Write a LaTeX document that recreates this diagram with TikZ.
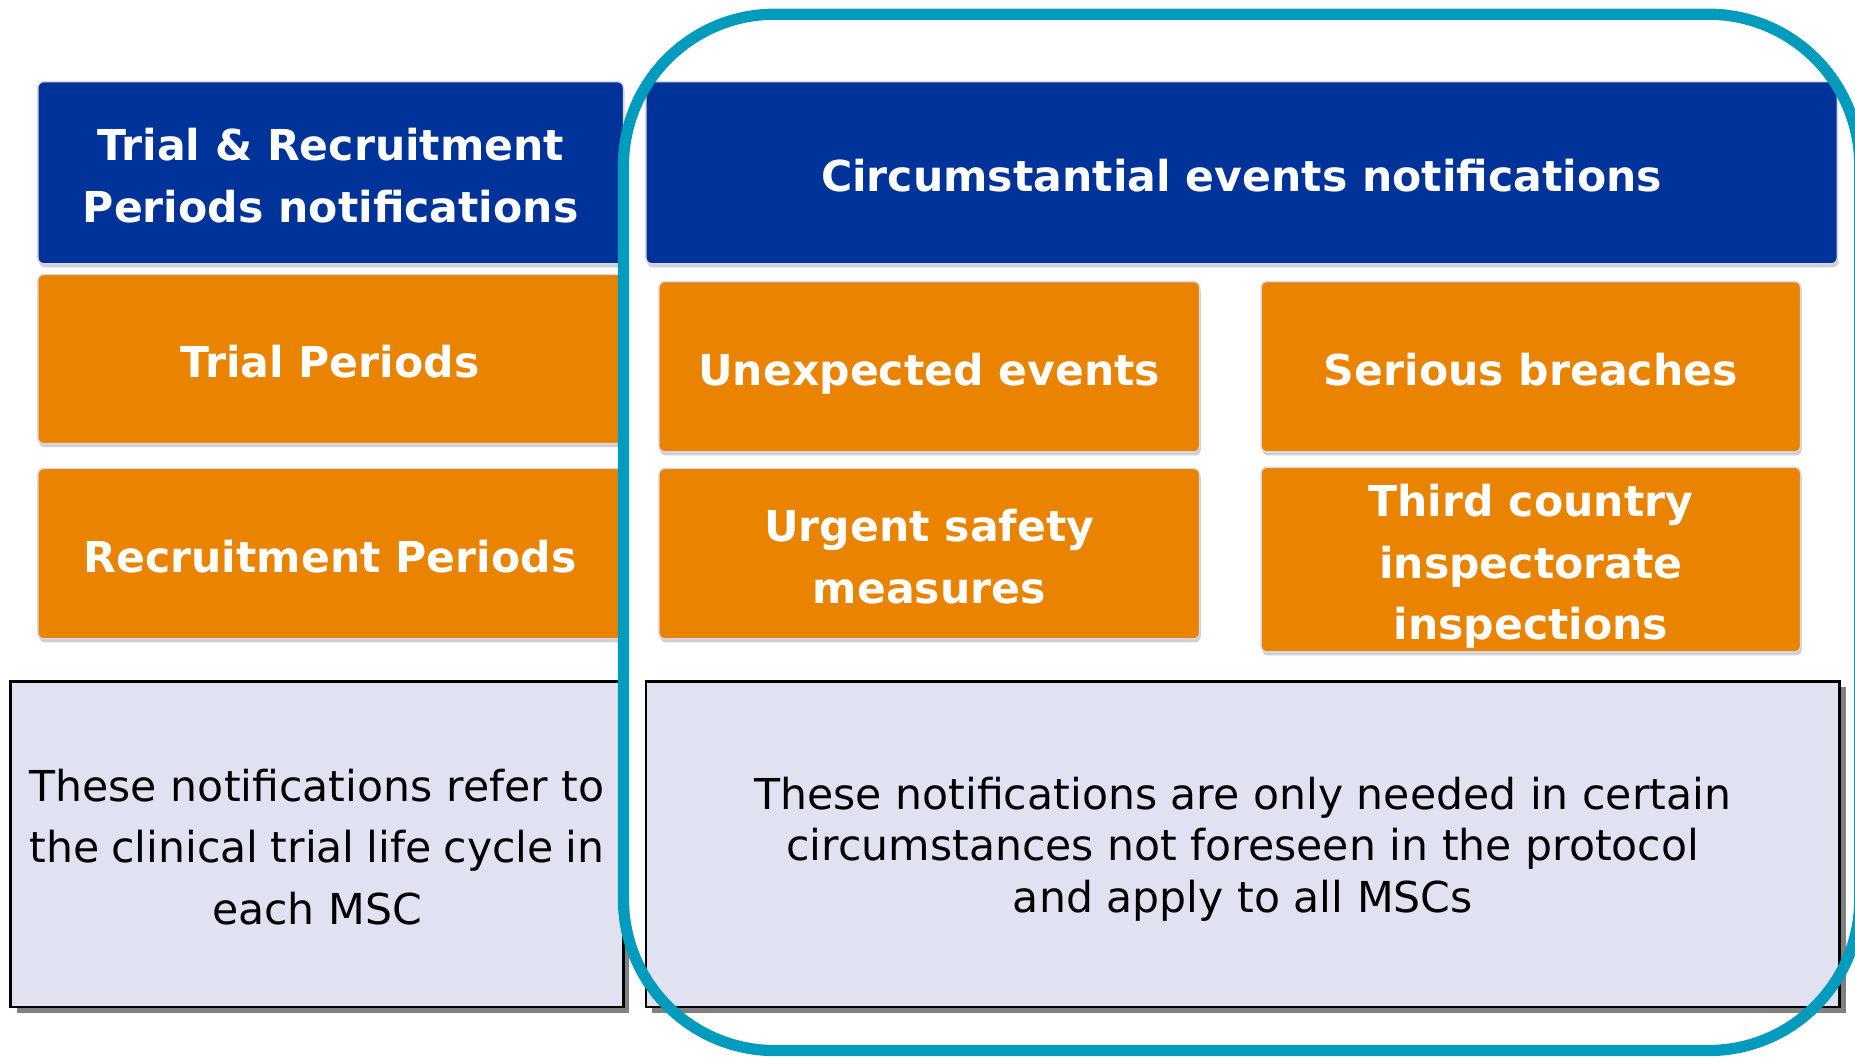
\documentclass[tikz,border=0pt]{standalone}
\usepackage{fontspec}
\setmainfont{DejaVu Sans}
\usetikzlibrary{shadows}

\definecolor{hdrblue}{RGB}{0,51,153}
\definecolor{evorange}{RGB}{233,131,0}
\definecolor{notefill}{RGB}{224,226,242}
\definecolor{frameteal}{RGB}{0,155,189}
\definecolor{edgegray}{RGB}{214,216,230}

% centred block of lines, lowered a little inside its own box
\newcommand{\blocktext}[1]{\raisebox{-5.5pt}[\height][\depth]{\begin{tabular}{@{}c@{}}#1\end{tabular}}}

\tikzset{
  tile/.style={rounded corners=5pt, draw=edgegray, line width=1.2pt, inner sep=0pt,
    text=white, font=\bfseries\fontsize{36}{52}\selectfont,
    drop shadow={shadow xshift=1pt, shadow yshift=-3pt, opacity=0.3, fill=black!60}},
  header/.style={tile, fill=hdrblue},
  event/.style={tile, fill=evorange},
  note/.style={draw=black, line width=2pt, fill=notefill, inner sep=0pt,
    drop shadow={shadow xshift=5pt, shadow yshift=-5pt, opacity=1, fill=black!50}},
  frame/.style={draw=frameteal, line width=9.5pt, rounded corners=128pt},
}

\begin{document}
\begin{tikzpicture}[x=1pt, y=-1pt]
  \clip (0,0) rectangle (1568,895);
  \fill[white] (0,0) rectangle (1568,895);

  % left column: periods
  \node[header, minimum width=495pt, minimum height=154pt] (trh) at (279.5,146)
    {\blocktext{Trial \& Recruitment\\Periods notifications}};
  \node[event, minimum width=494pt, minimum height=143pt] (tp) at (279,303.5)
    {\blocktext{Trial Periods}};
  \node[event, minimum width=494pt, minimum height=144pt] (rp) at (279,468)
    {\blocktext{Recruitment Periods}};

  % right column: circumstantial events
  \node[header, minimum width=1007pt, minimum height=154pt] (ceh) at (1049.5,146)
    {\blocktext{Circumstantial events notifications}};
  \node[event, minimum width=457pt, minimum height=144pt] (ue) at (785.5,310)
    {\blocktext{Unexpected events}};
  \node[event, minimum width=456pt, minimum height=144pt] (sb) at (1294,310)
    {\blocktext{Serious breaches}};
  \node[event, minimum width=457pt, minimum height=144pt] (usm) at (785.5,468)
    {\blocktext{Urgent safety\\measures}};
  \node[event, minimum width=456pt, minimum height=154pt] (tci) at (1294,473)
    {\blocktext{Third country\\inspectorate\\inspections}};

  % explanatory notes
  \node[note, minimum width=518pt, minimum height=275pt,
        font=\fontsize{36}{52}\selectfont] (ln) at (268,713.5)
    {\blocktext{\makebox[486pt][s]{These notifications refer to}\\
     \makebox[486pt][s]{the clinical trial life cycle in}\\
     each MSC}};
  \node[note, minimum width=1009pt, minimum height=275pt,
        font=\fontsize{36}{43.5}\selectfont] (rn) at (1050.5,713.5)
    {\blocktext{These notifications are only needed in certain\\
     circumstances not foreseen in the protocol\\
     and apply to all MSCs}};

  % rounded frame around the circumstantial group
  \draw[frame] (527,12) rectangle (1572,888);
\end{tikzpicture}
\end{document}
